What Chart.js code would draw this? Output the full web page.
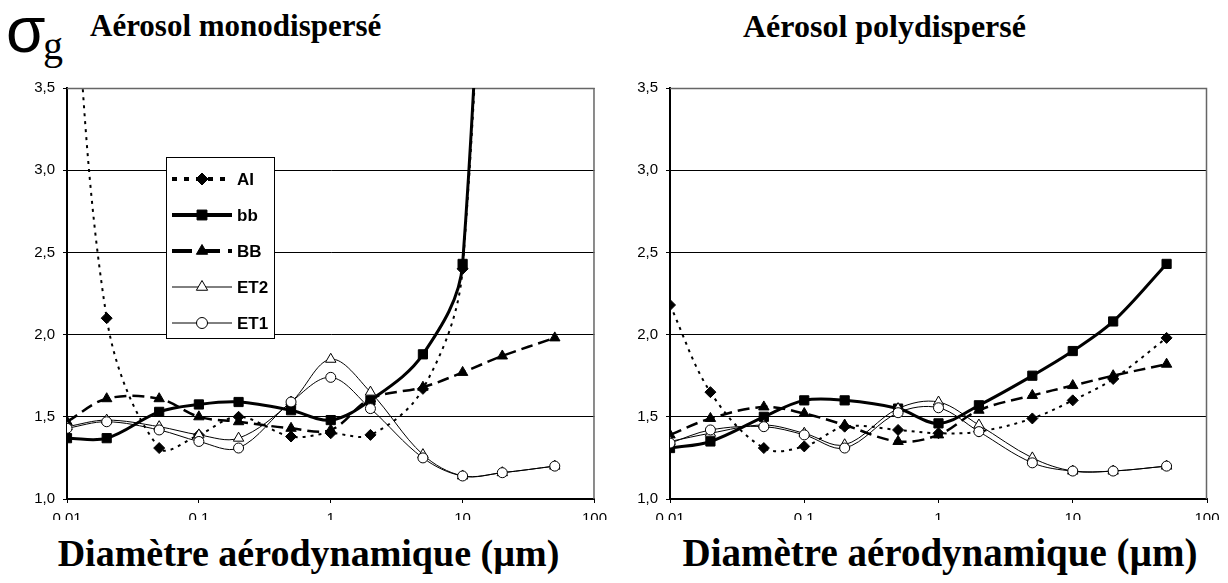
<!DOCTYPE html>
<html>
<head>
<meta charset="utf-8">
<script src="https://cdn.jsdelivr.net/npm/chart.js@4/dist/chart.umd.min.js"></script>
<style>
body{margin:0;background:#fff;width:1228px;height:583px;position:relative;overflow:hidden}
.t{position:absolute;font-family:"Liberation Serif","Times New Roman",serif;font-weight:bold;color:#000;white-space:nowrap}
canvas{position:absolute}
</style>
</head>
<body>
<div class="t" style="left:6px;top:-2px;font-family:'Liberation Sans',sans-serif;font-weight:normal;font-size:64px;line-height:64px">σ</div>
<div class="t" style="left:43px;top:26px;font-weight:normal;font-size:40px;line-height:40px">g</div>
<div class="t" style="left:90px;top:8px;font-size:31px">Aérosol monodispersé</div>
<div class="t" style="left:743px;top:8px;font-size:32px">Aérosol polydispersé</div>
<div class="t" style="left:0;width:617px;text-align:center;top:531px;font-size:38px">Diamètre aérodynamique (µm)</div>
<div class="t" style="left:614px;width:652px;text-align:center;top:530px;font-size:39px">Diamètre aérodynamique (µm)</div>
<canvas id="mono" width="614" height="450" style="left:0;top:70px;width:614px;height:450px"></canvas>
<canvas id="poly" width="614" height="450" style="left:614px;top:70px;width:614px;height:450px"></canvas>
<script>
// diameters (µm)
const diam = [0.01, 0.02, 0.05, 0.1, 0.2, 0.5, 1, 2, 5, 10, 20, 50]
const xTicks = [0.01, 0.1, 1, 10, 100]
const xTickLabels = ['0,01', '0,1', '1', '10', '100']
const seriesNames = ['AI', 'bb', 'BB', 'ET2', 'ET1']

// aérosol monodispersé
const monoAI  = [4.9, 2.10, 1.31, 1.39, 1.50, 1.38, 1.40, 1.39, 1.67, 2.40, 8.0, null]
const monoBb  = [1.37, 1.37, 1.53, 1.575, 1.59, 1.54, 1.48, 1.60, 1.88, 2.43, 8.5, null]
const monoBB  = [1.47, 1.61, 1.61, 1.50, 1.47, 1.43, 1.42, 1.61, 1.68, 1.77, 1.87, 1.98]
const monoET2 = [1.44, 1.48, 1.44, 1.39, 1.37, 1.59, 1.85, 1.65, 1.27, 1.14, 1.16, 1.20]
const monoET1 = [1.43, 1.47, 1.42, 1.35, 1.31, 1.59, 1.74, 1.55, 1.25, 1.14, 1.16, 1.20]

// aérosol polydispersé
const polyAI  = [2.18, 1.65, 1.31, 1.32, 1.44, 1.42, 1.40, 1.41, 1.49, 1.60, 1.73, 1.98]
const polyBb  = [1.31, 1.35, 1.50, 1.60, 1.60, 1.55, 1.46, 1.57, 1.75, 1.90, 2.08, 2.43]
const polyBB  = [1.39, 1.49, 1.56, 1.52, 1.45, 1.35, 1.39, 1.54, 1.63, 1.69, 1.75, 1.82]
const polyET2 = [1.35, 1.40, 1.45, 1.40, 1.33, 1.55, 1.59, 1.45, 1.25, 1.17, 1.17, 1.20]
const polyET1 = [1.34, 1.42, 1.44, 1.39, 1.31, 1.525, 1.555, 1.41, 1.22, 1.17, 1.17, 1.20]

Chart.defaults.font.family = "'Liberation Sans', Arial, sans-serif"
Chart.defaults.font.size = 15
Chart.defaults.color = '#000'

const styles = [
    {borderWidth: 2, borderDash: [3, 5], pointStyle: 'rectRot', pointRadius: 5.5, fill: '#000', legendDash: [5, 7], legendWidth: 4},
    {borderWidth: 3, borderDash: [], pointStyle: 'rect', pointRadius: 6.5, fill: '#000', legendDash: [], legendWidth: 4},
    {borderWidth: 2.5, borderDash: [12, 6], pointStyle: 'triangle', pointRadius: 6, fill: '#000', legendDash: [20, 8], legendWidth: 4},
    {borderWidth: 1, borderDash: [], pointStyle: 'triangle', pointRadius: 6, fill: '#fff', legendDash: [], legendWidth: 1},
    {borderWidth: 1, borderDash: [], pointStyle: 'circle', pointRadius: 5, fill: '#fff', legendDash: [], legendWidth: 1}
]

function makeDatasets(list){
    return list.map((vals, i) => ({
        label: seriesNames[i],
        data: diam.map((d, j) => ({x: d, y: vals[j]})),
        borderColor: '#000',
        backgroundColor: styles[i].fill,
        borderWidth: styles[i].borderWidth,
        borderDash: styles[i].borderDash,
        pointStyle: styles[i].pointStyle,
        pointRadius: styles[i].pointRadius,
        pointBorderWidth: 1,
        pointBorderColor: '#000',
        pointBackgroundColor: styles[i].fill,
        tension: 0.35,
        order: 5 - i
    }))
}

// gray frame on the top / right side of the plot
const framePlugin = {
    id: 'frame',
    beforeDatasetsDraw(chart){
        const a = chart.chartArea, ctx = chart.ctx
        ctx.save()
        ctx.strokeStyle = '#666'
        ctx.lineWidth = 1.5
        ctx.beginPath()
        ctx.moveTo(a.left, a.top + 0.5)
        ctx.lineTo(a.right - 0.5, a.top + 0.5)
        ctx.lineTo(a.right - 0.5, a.bottom)
        ctx.stroke()
        ctx.restore()
    }
}

// legend box drawn inside the left plot
const boxLegend = {
    id: 'boxLegend',
    afterDraw(chart, args, opts){
        if(!opts.show) return
        const ctx = chart.ctx
        const bx = 166, by = 87, bw = 108, bh = 181
        ctx.save()
        ctx.fillStyle = '#fff'
        ctx.fillRect(bx, by, bw, bh)
        ctx.strokeStyle = '#000'
        ctx.lineWidth = 1
        ctx.strokeRect(bx + 0.5, by + 0.5, bw, bh)
        chart.data.datasets.forEach((ds, i) => {
            const y = by + 22 + i * 36
            const st = styles[i]
            ctx.strokeStyle = '#000'
            ctx.lineWidth = st.legendWidth
            ctx.setLineDash(st.legendDash)
            ctx.beginPath()
            ctx.moveTo(172, y)
            ctx.lineTo(232, y)
            ctx.stroke()
            ctx.setLineDash([])
            ctx.fillStyle = st.fill
            ctx.strokeStyle = '#000'
            ctx.lineWidth = 1
            Chart.helpers.drawPoint(ctx, {pointStyle: st.pointStyle, radius: st.pointRadius + 0.5, rotation: 0, borderWidth: 1}, 202, y)
            ctx.fillStyle = '#000'
            ctx.font = 'bold 17px "Liberation Sans", Arial, sans-serif'
            ctx.textBaseline = 'middle'
            ctx.fillText(ds.label, 237, y + 1)
        })
        ctx.restore()
    }
}

function showGraph(id, list, axisWidth, rightPad, withLegend){
    new Chart(id, {
        type: 'line',
        data: {datasets: makeDatasets(list)},
        plugins: [framePlugin, boxLegend],
        options: {
            responsive: false,
            animation: false,
            layout: {padding: {top: 18, right: rightPad, left: 0, bottom: 0}},
            plugins: {
                legend: {display: false},
                tooltip: {enabled: false},
                boxLegend: {show: withLegend}
            },
            scales: {
                x: {
                    type: 'logarithmic',
                    min: 0.01,
                    max: 100,
                    afterBuildTicks: s => { s.ticks = xTicks.map(v => ({value: v})) },
                    afterFit: s => { s.height = 21 },
                    border: {color: '#000', width: 2},
                    grid: {drawOnChartArea: false, color: '#000', tickLength: 4, tickWidth: 1},
                    ticks: {
                        color: '#000',
                        padding: 7,
                        maxRotation: 0,
                        autoSkip: false,
                        font: {size: 15},
                        callback: (v, i) => xTickLabels[i]
                    }
                },
                y: {
                    min: 1,
                    max: 3.5,
                    afterFit: s => { s.width = axisWidth },
                    border: {color: '#000', width: 2},
                    grid: {color: '#000', lineWidth: 1, tickLength: 4},
                    ticks: {
                        stepSize: 0.5,
                        color: '#000',
                        padding: 8,
                        font: {size: 15},
                        callback: v => v.toFixed(1).replace('.', ',')
                    }
                }
            }
        }
    })
}

showGraph('mono', [monoAI, monoBb, monoBB, monoET2, monoET1], 67, 11, true)
showGraph('poly', [polyAI, polyBb, polyBB, polyET2, polyET1], 56, 21, false)
</script>
</body>
</html>
